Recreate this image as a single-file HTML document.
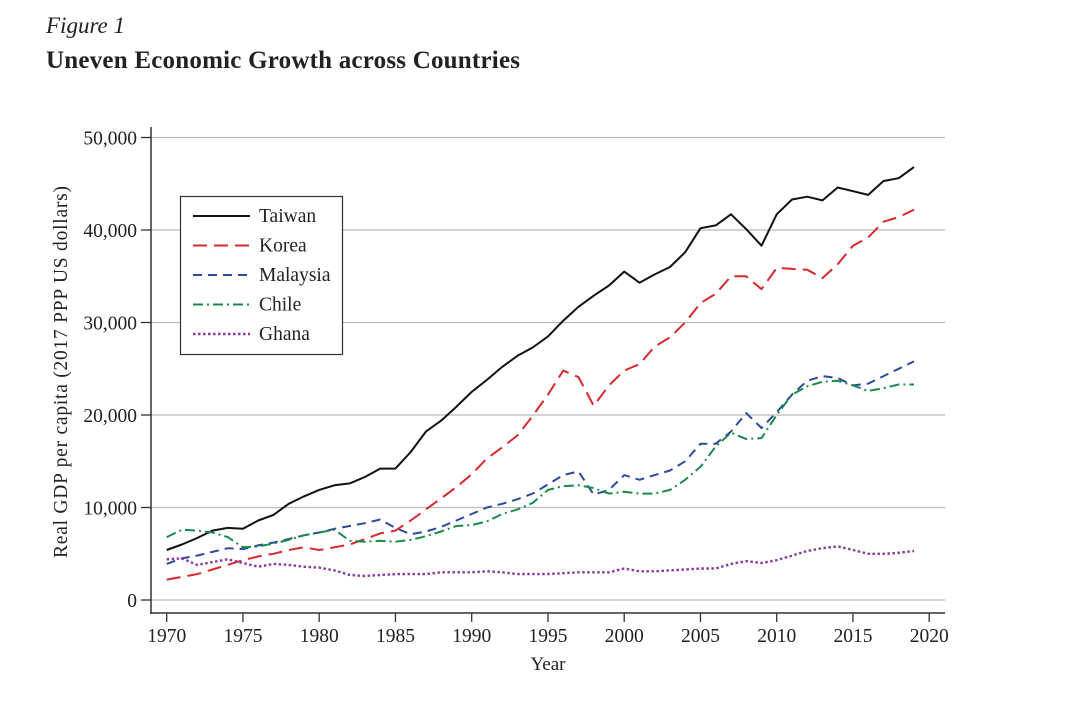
<!DOCTYPE html>
<html><head><meta charset="utf-8"><style>
body{margin:0;background:#fff;}
svg text{font-family:"Liberation Serif",serif;fill:#222;}
</style></head><body>
<svg width="1065" height="697" viewBox="0 0 1065 697" xmlns="http://www.w3.org/2000/svg">
<text x="46" y="33" font-size="23" font-style="italic">Figure 1</text>
<text x="46" y="68" font-size="25" font-weight="bold" textLength="474">Uneven Economic Growth across Countries</text>
<g id="grid"></g>
<g id="axes"></g>
<g id="series"></g>
<text x="548" y="670" font-size="19" text-anchor="middle">Year</text>
<text transform="translate(67,372) rotate(-90)" font-size="19.5" text-anchor="middle" textLength="372">Real GDP per capita (2017 PPP US dollars)</text>
<g id="legend"></g>
</svg>
<script>
const years = [];
for (let y = 1970; y <= 2019; y++) years.push(y);
const taiwan = [5.4,6.0,6.7,7.5,7.8,7.7,8.6,9.2,10.4,11.2,11.9,12.4,12.6,13.3,14.2,14.2,16.0,18.2,19.4,20.9,22.5,23.8,25.2,26.4,27.3,28.5,30.2,31.7,32.9,34.0,35.5,34.3,35.2,36.0,37.6,40.2,40.5,41.7,40.1,38.3,41.7,43.3,43.6,43.2,44.6,44.2,43.8,45.3,45.6,46.8];
const korea = [2.2,2.5,2.8,3.3,3.8,4.3,4.7,5.0,5.4,5.7,5.4,5.7,6.0,6.6,7.2,7.5,8.6,9.8,11.0,12.2,13.6,15.3,16.5,17.8,19.9,22.2,24.8,24.1,21.0,23.2,24.8,25.5,27.4,28.4,30.0,32.1,33.1,35.0,35.0,33.6,35.9,35.8,35.7,34.8,36.3,38.3,39.2,40.9,41.4,42.2];
const malaysia = [3.9,4.5,4.8,5.2,5.6,5.5,5.9,6.2,6.6,7.0,7.3,7.7,8.0,8.3,8.7,7.8,7.1,7.4,7.9,8.6,9.3,10.0,10.4,10.9,11.5,12.5,13.5,13.9,11.4,11.9,13.5,13.0,13.5,14.0,15.0,16.9,16.9,18.2,20.2,18.6,20.3,22.2,23.7,24.2,24.0,23.2,23.4,24.2,25.0,25.8];
const chile = [6.8,7.6,7.5,7.3,6.8,5.7,5.8,6.1,6.5,7.0,7.3,7.6,6.4,6.3,6.4,6.3,6.5,6.9,7.4,8.0,8.1,8.5,9.3,9.8,10.5,11.9,12.3,12.4,12.1,11.5,11.7,11.5,11.5,11.9,13.0,14.4,16.6,18.1,17.4,17.5,20.0,22.2,23.1,23.6,23.7,23.2,22.6,22.9,23.3,23.3];
const ghana = [4.4,4.5,3.8,4.1,4.4,4.0,3.6,3.9,3.8,3.6,3.5,3.2,2.7,2.6,2.7,2.8,2.8,2.8,3.0,3.0,3.0,3.1,3.0,2.8,2.8,2.8,2.9,3.0,3.0,3.0,3.4,3.1,3.1,3.2,3.3,3.4,3.4,3.9,4.2,4.0,4.3,4.8,5.3,5.6,5.8,5.4,5.0,5.0,5.1,5.3];
const yTicks = [0,10000,20000,30000,40000,50000];
const yTickLabels = ["0","10,000","20,000","30,000","40,000","50,000"];
const xTicks = [1970,1975,1980,1985,1990,1995,2000,2005,2010,2015,2020];
const seriesNames = ["Taiwan","Korea","Malaysia","Chile","Ghana"];

const NS = "http://www.w3.org/2000/svg";
const X = y => 166.7 + (y - 1970) * 15.25;
const Y = v => 600 - v * 0.00925;
function mk(tag, attrs, parent) {
  const e = document.createElementNS(NS, tag);
  for (const k in attrs) e.setAttribute(k, attrs[k]);
  parent.appendChild(e); return e;
}
const grid = document.getElementById('grid'), axes = document.getElementById('axes'),
      ser = document.getElementById('series'), leg = document.getElementById('legend');
yTicks.forEach((t, i) => {
  const l = mk('line', {x1:151, x2:945, y1:Y(t), y2:Y(t), stroke:'#bbb', 'stroke-width':1.2}, grid);
  
  
  mk('line', {x1:141, x2:151, y1:Y(t), y2:Y(t), stroke:'#333', 'stroke-width':1.3}, axes);
  const tx = mk('text', {x:137, y:Y(t)+7, 'font-size':19.5, 'text-anchor':'end'}, axes);
  tx.textContent = yTickLabels[i];
  
  
});
mk('line', {x1:151, x2:151, y1:127, y2:614, stroke:'#333', 'stroke-width':1.5}, axes);
mk('line', {x1:150, x2:945, y1:613, y2:613, stroke:'#333', 'stroke-width':1.5}, axes);
xTicks.forEach(t => {
  mk('line', {x1:X(t), x2:X(t), y1:613, y2:622, stroke:'#333', 'stroke-width':1.3}, axes);
  const tx = mk('text', {x:X(t), y:642, 'font-size':19.5, 'text-anchor':'middle'}, axes);
  tx.textContent = t;
  
  
});
const styles = [
  {c:'#111', d:'', w:2},
  {c:'#d42a2e', d:'14 7', w:2},
  {c:'#2e4a9a', d:'9 6', w:2},
  {c:'#1a8a4a', d:'10 4 2 4', w:2},
  {c:'#8a3a9e', d:'2.5 2.5', w:2.4}
];
const data = [taiwan, korea, malaysia, chile, ghana];
data.forEach((arr, i) => {
  const pts = arr.map((v, j) => X(years[j]).toFixed(1) + ',' + Y(v * 1000).toFixed(1)).join(' ');
  const p = mk('polyline', {points:pts, fill:'none', stroke:styles[i].c, 'stroke-width':styles[i].w, 'stroke-dasharray':styles[i].d, 'stroke-linejoin':'round'}, ser);
  
  
});
mk('rect', {x:180.5, y:196.5, width:162, height:158, fill:'#fff', stroke:'#333', 'stroke-width':1.2}, leg);
seriesNames.forEach((n, i) => {
  const yy = 216 + i * 29.5;
  mk('line', {x1:193, x2:250, y1:yy, y2:yy, stroke:styles[i].c, 'stroke-width':styles[i].w, 'stroke-dasharray':styles[i].d}, leg);
  const tx = mk('text', {x:259, y:yy+6, 'font-size':19.5}, leg);
  tx.textContent = n;
  
  
});
</script>
</body></html>
